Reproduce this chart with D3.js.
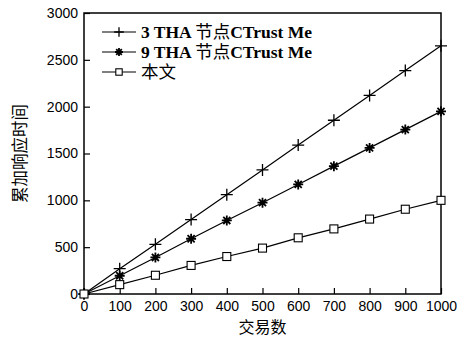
<!DOCTYPE html>
<html>
<head>
<meta charset="utf-8">
<script src="https://cdn.jsdelivr.net/npm/d3@7"></script>
<style>
  body { margin: 0; background: #fff; }
  .tick text { font-family: "Liberation Sans", Arial, sans-serif; font-size: 14px; fill: #000; }
</style>
</head>
<body>
<svg id="chart" width="469" height="337"></svg>
<script>
// data
var txCounts = [0, 100, 200, 300, 400, 500, 600, 700, 800, 900, 1000];
var tha3 = [0, 270, 530, 795, 1060, 1325, 1590, 1855, 2120, 2385, 2650];
var tha9 = [0, 195, 390, 590, 785, 975, 1170, 1365, 1560, 1755, 1950];
var ours = [0, 100, 200, 305, 400, 490, 600, 695, 800, 905, 1000];
var seriesNames = ["3 THA 节点CTrust Me", "9 THA 节点CTrust Me", "本文"];
var xTicks = [0, 100, 200, 300, 400, 500, 600, 700, 800, 900, 1000];
var yTicks = [0, 500, 1000, 1500, 2000, 2500, 3000];

var svg = d3.select("#chart");
// plot box edges (named so they don't clash with window.top)
var plotL = 84, plotR = 441, plotT = 13, plotB = 294;

var xScale = d3.scaleLinear().domain([0, 1000]).range([plotL, plotR]);
var yScale = d3.scaleLinear().domain([0, 3000]).range([plotB, plotT]);

// axes, ticks pointing inward
var xAxis = svg.append("g")
  .attr("transform", "translate(0," + plotB + ")")
  .call(d3.axisBottom(xScale).tickValues(xTicks).tickFormat(d3.format("d"))
    .tickSizeInner(-6).tickSizeOuter(0).tickPadding(5));
var yAxis = svg.append("g")
  .attr("transform", "translate(" + plotL + ",0)")
  .call(d3.axisLeft(yScale).tickValues(yTicks).tickFormat(d3.format("d"))
    .tickSizeInner(-6).tickSizeOuter(0).tickPadding(5));
[xAxis, yAxis].forEach(function (a) {
  a.select(".domain").remove();
  a.selectAll(".tick line").attr("stroke", "#000").attr("stroke-width", 1.2);
});
xAxis.selectAll(".tick text").attr("dy", "0.85em");
yAxis.selectAll(".tick text").attr("dx", "-1");

// frame
svg.append("rect")
  .attr("x", plotL).attr("y", plotT)
  .attr("width", plotR - plotL).attr("height", plotB - plotT)
  .attr("fill", "none").attr("stroke", "#000").attr("stroke-width", 1.5);

var line = d3.line().x((d) => xScale(d.x)).y((d) => yScale(d.y));

function toPoints(vals) {
  return vals.map((v, i) => ({ x: txCounts[i], y: v }));
}

var series = [toPoints(tha3), toPoints(tha9), toPoints(ours)];
var markerTypes = ["plus", "star", "square"];

function drawMarker(g, type, cx, cy, s) {
  if (type === "plus") {
    var h = 6 * s;
    g.append("path")
      .attr("d", "M" + (cx - h) + "," + cy + "H" + (cx + h) + "M" + cx + "," + (cy - h) + "V" + (cy + h))
      .attr("stroke", "#000").attr("stroke-width", 1.3);
  } else if (type === "star") {
    var r = 5 * s, d = "";
    for (var k = 0; k < 4; k++) {
      var a = k * Math.PI / 4;
      d += "M" + (cx - r * Math.cos(a)) + "," + (cy - r * Math.sin(a)) +
           "L" + (cx + r * Math.cos(a)) + "," + (cy + r * Math.sin(a));
    }
    g.append("path").attr("d", d).attr("stroke", "#000").attr("stroke-width", 1.8);
  } else {
    var w = 8 * s;
    g.append("rect")
      .attr("x", cx - w / 2).attr("y", cy - w / 2).attr("width", w).attr("height", w)
      .attr("fill", "#fff").attr("stroke", "#000").attr("stroke-width", 1.1);
  }
}

series.forEach(function (pts, i) {
  svg.append("path")
    .datum(pts)
    .attr("d", line)
    .attr("fill", "none")
    .attr("stroke", "#000")
    .attr("stroke-width", 1.2);
  var mg = svg.append("g");
  pts.forEach(function (p) {
    drawMarker(mg, markerTypes[i], xScale(p.x), yScale(p.y), 1);
  });
});

// legend: latin runs in bold serif, CJK runs in normal weight
var legend = svg.append("g");
seriesNames.forEach(function (name, i) {
  var ly = 32 + i * 20;
  legend.append("line")
    .attr("x1", 102).attr("x2", 136).attr("y1", ly).attr("y2", ly)
    .attr("stroke", "#000").attr("stroke-width", 1.2);
  drawMarker(legend, markerTypes[i], 119, ly, 0.8);
  var t = legend.append("text")
    .attr("x", 141).attr("y", ly + 6)
    .style("font-size", "17.5px");
  name.match(/[\u4e00-\u9fff]+|[^\u4e00-\u9fff]+/g).forEach(function (run) {
    var cjk = /[\u4e00-\u9fff]/.test(run);
    t.append("tspan")
      .style("font-family", cjk ? "'Noto Sans CJK SC', sans-serif" : "'Liberation Serif', 'Times New Roman', serif")
      .style("font-weight", cjk ? "normal" : "bold")
      .text(run);
  });
});

// axis titles
svg.append("text")
  .attr("x", (plotL + plotR) / 2).attr("y", 333)
  .attr("text-anchor", "middle")
  .style("font-family", "'Noto Sans CJK SC', sans-serif")
  .style("font-size", "16px")
  .text("交易数");

svg.append("text")
  .attr("transform", "translate(26," + ((plotT + plotB) / 2) + ") rotate(-90)")
  .attr("text-anchor", "middle")
  .style("font-family", "'Noto Sans CJK SC', sans-serif")
  .style("font-size", "16.5px")
  .text("累加响应时间");
</script>
</body>
</html>
